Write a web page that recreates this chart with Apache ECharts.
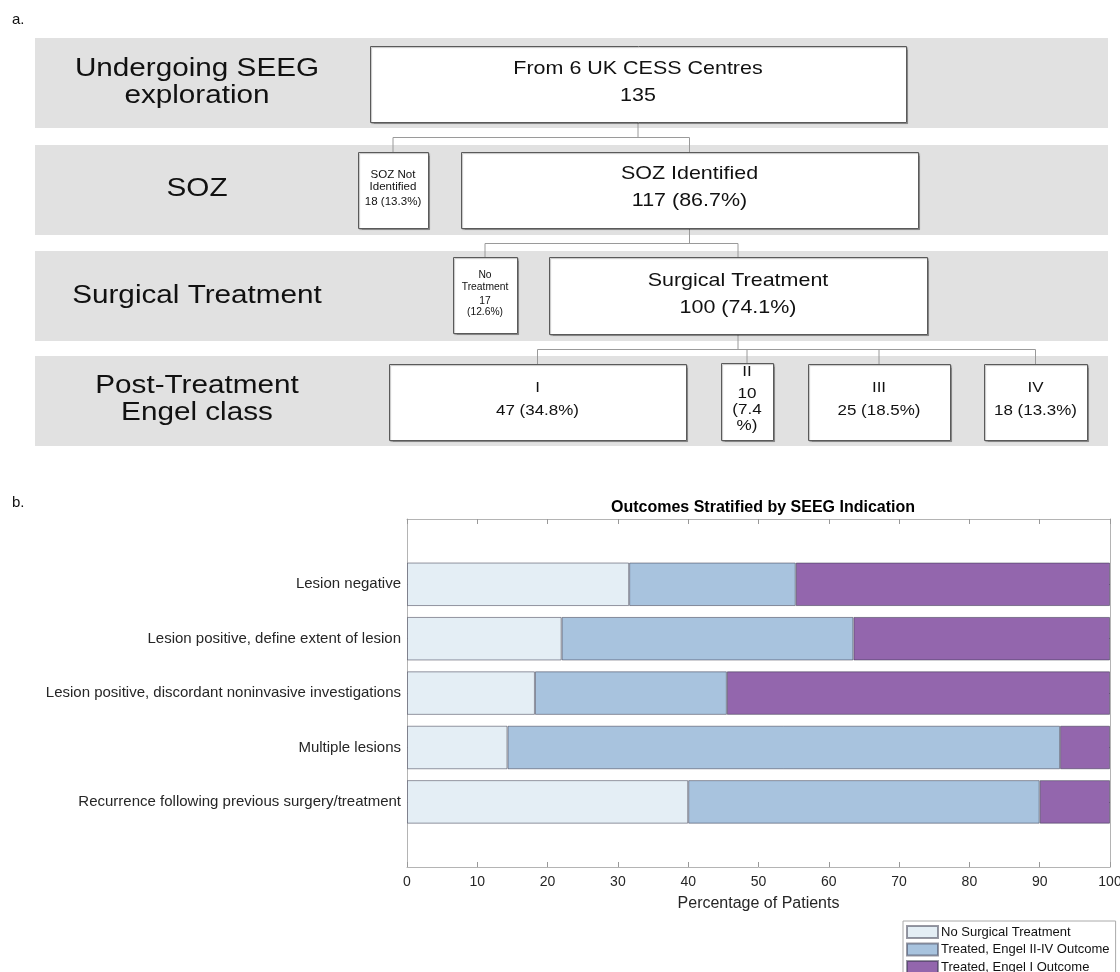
<!DOCTYPE html>
<html>
<head>
<meta charset="utf-8">
<script src="https://cdn.jsdelivr.net/npm/echarts@6/dist/echarts.min.js"></script>
<style>html,body{margin:0;padding:0;background:#fff}#c{width:1120px;height:972px}</style>
</head>
<body>
<div id="c"></div>
<script>
// ================= DATA =================
// Panel a: flow diagram
const stageLabels = ['Undergoing SEEG\nexploration', 'SOZ', 'Surgical Treatment', 'Post-Treatment\nEngel class'];
const nodeTitles = ['From 6 UK CESS Centres', 'SOZ Not\nIdentified', 'SOZ Identified', 'No\nTreatment', 'Surgical Treatment', 'I', 'II', 'III', 'IV'];
const nodeCounts = [135, 18, 117, 17, 100, 47, 10, 25, 18];
const nodePercents = [null, 13.3, 86.7, 12.6, 74.1, 34.8, 7.4, 18.5, 13.3];
const nodeParents = [-1, 0, 0, 2, 2, 4, 4, 4, 4];

// Panel b: stacked bars (percentage of patients)
const categories = [
  'Lesion negative',
  'Lesion positive, define extent of lesion',
  'Lesion positive, discordant noninvasive investigations',
  'Multiple lesions',
  'Recurrence following previous surgery/treatment'
];
const noSurgery = [31.6, 22.0, 18.2, 14.3, 40.0];
const engel2to4 = [23.7, 41.5, 27.3, 78.6, 50.0];
const engel1    = [44.7, 36.5, 54.5, 7.1, 10.0];
const seriesNames = ['No Surgical Treatment', 'Treated, Engel II-IV Outcome', 'Treated, Engel I Outcome'];
const xTickValues = [0, 10, 20, 30, 40, 50, 60, 70, 80, 90, 100];
const chartTitle = 'Outcomes Stratified by SEEG Indication';
const xAxisTitle = 'Percentage of Patients';

// ================= LAYOUT / STYLE =================
const FONT = '"Liberation Sans", Arial, Helvetica, sans-serif';
const bandTops = [38, 145, 251, 356];
const bandH = 90;
const stageLineYs = [[69, 96], [189], [296], [386, 413]];
// box geometry [x, y, w, h]
const boxGeom = [
  [370, 46, 536, 76],
  [358, 152, 70, 76],
  [461, 152, 457, 76],
  [453, 257, 64, 76],
  [549, 257, 378, 77],
  [389, 364, 297, 76],
  [721, 363, 52, 77],
  [808, 364, 142, 76],
  [984, 364, 103, 76]
];
const boxMode = ['countOnly', 'inline', 'inline', 'stacked', 'inline', 'inline', 'split', 'inline', 'inline'];
const boxFont = [19, 10.5, 19, 10, 19, 15, 15.5, 15, 15];
const boxScaleX = [1.13, 1.1, 1.13, 1.03, 1.13, 1.13, 1.1, 1.13, 1.13];
const boxLineYs = [
  [69, 96], [175, 187, 202], [174, 201], [275, 287, 301, 312], [281, 308],
  [388, 411], [372, 394, 410, 426], [388, 411], [388, 411]
];

function nodeLines(i) {
  const t = nodeTitles[i].split('\n');
  const c = nodeCounts[i];
  const p = nodePercents[i] == null ? '' : nodePercents[i].toFixed(1);
  switch (boxMode[i]) {
    case 'countOnly': return t.concat([String(c)]);
    case 'inline': return t.concat([c + ' (' + p + '%)']);
    case 'stacked': return t.concat([String(c), '(' + p + '%)']);
    case 'split': return t.concat([String(c), '(' + p, '%)']);
  }
  return t;
}

const graphics = [];
function txt(str, x, y, size, scaleX, weight) {
  graphics.push({
    type: 'text', x: x, y: y, scaleX: scaleX || 1, silent: true,
    style: { text: str, fontSize: size, fontFamily: FONT, fontWeight: weight || 'normal',
             fill: '#111', align: 'center', verticalAlign: 'middle' }
  });
}
function line(x1, y1, x2, y2) {
  graphics.push({ type: 'line', silent: true,
    shape: { x1: x1, y1: y1, x2: x2, y2: y2 },
    style: { stroke: '#9a9a9a', lineWidth: 1 } });
}

// panel labels
graphics.push({ type: 'text', x: 12, y: 20, silent: true,
  style: { text: 'a.', fontSize: 15, fontFamily: FONT, fill: '#111', align: 'left', verticalAlign: 'middle' } });
graphics.push({ type: 'text', x: 12, y: 503, silent: true,
  style: { text: 'b.', fontSize: 15, fontFamily: FONT, fill: '#111', align: 'left', verticalAlign: 'middle' } });

// bands and stage labels
bandTops.forEach(function (y, k) {
  graphics.push({ type: 'rect', silent: true, shape: { x: 35, y: y, width: 1073, height: bandH },
    style: { fill: '#e1e1e1' } });
  stageLabels[k].split('\n').forEach(function (s, j) {
    txt(s, 197, stageLineYs[k][j], 26.5, 1.12);
  });
});

// connectors
const centerX = boxGeom.map(function (b) { return b[0] + b[2] / 2; });
for (let p = 0; p < nodeTitles.length; p++) {
  const kids = [];
  nodeParents.forEach(function (par, i) { if (par === p) kids.push(i); });
  if (!kids.length) continue;
  const pb = boxGeom[p];
  const bottom = pb[1] + pb[3];
  const childTop = Math.min.apply(null, kids.map(function (i) { return boxGeom[i][1]; }));
  const midY = Math.round((bottom + childTop) / 2) + 0.5;
  line(centerX[p], bottom, centerX[p], midY);
  const xs = kids.map(function (i) { return centerX[i]; });
  line(Math.min.apply(null, xs), midY, Math.max.apply(null, xs), midY);
  kids.forEach(function (i) { line(centerX[i], midY, centerX[i], boxGeom[i][1]); });
}

// boxes
boxGeom.forEach(function (b, i) {
  graphics.push({ type: 'rect', silent: true,
    shape: { x: b[0] + 0.5, y: b[1] + 0.5, width: b[2], height: b[3] },
    style: { fill: '#fff', stroke: '#5a5a5a', lineWidth: 1,
             shadowColor: 'rgba(0,0,0,0.25)', shadowOffsetX: 1, shadowOffsetY: 1, shadowBlur: 1 } });
});
boxGeom.forEach(function (b, i) {
  nodeLines(i).forEach(function (s, j) {
    txt(s, centerX[i], boxLineYs[i][j], boxFont[i], boxScaleX[i]);
  });
});

// ================= CHART =================
const chart = echarts.init(document.getElementById('c'), null, { renderer: 'canvas' });
const axisGrey = '#b4b4b4';
const txtCol = '#262626';
const barColors = ['#e4eef5', '#a8c3de', '#9366ad'];
const seriesData = [noSurgery, engel2to4, engel1];

chart.setOption({
  animation: false,
  backgroundColor: '#fff',
  textStyle: { fontFamily: FONT },
  title: {
    text: chartTitle, left: 758, top: 495, textAlign: 'center',
    textStyle: { fontSize: 16, fontWeight: 'bold', color: '#000', fontFamily: FONT }
  },
  legend: {
    data: seriesNames, orient: 'vertical', left: 903, top: 921, height: 70,
    itemWidth: 31, itemHeight: 12, itemGap: 3.5, icon: 'rect',
    padding: [4, 6, 4, 3], borderColor: '#aaa', borderWidth: 1, backgroundColor: '#fff',
    textStyle: { fontSize: 13, color: '#111', fontFamily: FONT, padding: [0, 0, 0, -2] },
    selectedMode: false
  },
  grid: [
    { left: 407, width: 703, top: 519, height: 348, outerBoundsMode: 'none', containLabel: false },
    { left: 407, width: 703, top: 557.1, height: 272, outerBoundsMode: 'none', containLabel: false }
  ],
  xAxis: [
    { gridIndex: 0, type: 'value', min: 0, max: 100, interval: 10, position: 'bottom',
      axisLine: { show: true, onZero: false, lineStyle: { color: axisGrey } },
      axisTick: { show: true, inside: true, length: 5, lineStyle: { color: '#999' } },
      axisLabel: { color: txtCol, fontSize: 14, margin: 8, hideOverlap: false,
                   formatter: function (v) { return xTickValues.indexOf(v) >= 0 ? String(v) : ''; } },
      splitLine: { show: false },
      name: xAxisTitle, nameLocation: 'middle', nameGap: 29,
      nameTextStyle: { fontSize: 16, color: txtCol, fontFamily: FONT } },
    { gridIndex: 0, type: 'value', min: 0, max: 100, interval: 10, position: 'top',
      axisLine: { show: true, onZero: false, lineStyle: { color: axisGrey } },
      axisTick: { show: true, inside: true, length: 5, lineStyle: { color: '#999' } },
      axisLabel: { show: false }, splitLine: { show: false } },
    { gridIndex: 1, type: 'value', min: 0, max: 100, show: false }
  ],
  yAxis: [
    { gridIndex: 0, type: 'value', min: 0, max: 1, position: 'left',
      axisLine: { show: true, onZero: false, lineStyle: { color: axisGrey } }, axisTick: { show: false },
      axisLabel: { show: false }, splitLine: { show: false } },
    { gridIndex: 0, type: 'value', min: 0, max: 1, position: 'right',
      axisLine: { show: true, onZero: false, lineStyle: { color: axisGrey } }, axisTick: { show: false },
      axisLabel: { show: false }, splitLine: { show: false } },
    { gridIndex: 1, type: 'category', data: categories, inverse: true, position: 'left',
      axisLine: { show: false, onZero: false },
      axisTick: { show: true, inside: true, length: 5, alignWithLabel: true, lineStyle: { color: '#999' } },
      axisLabel: { color: txtCol, fontSize: 15, margin: 6 }, splitLine: { show: false } },
    { gridIndex: 1, type: 'category', data: categories, inverse: true, position: 'right',
      axisLine: { show: false, onZero: false },
      axisTick: { show: true, inside: true, length: 5, alignWithLabel: true, lineStyle: { color: '#999' } },
      axisLabel: { show: false }, splitLine: { show: false } }
  ],
  series: seriesNames.map(function (name, k) {
    return {
      name: name, type: 'bar', stack: 'total', xAxisIndex: 2, yAxisIndex: 2,
      barCategoryGap: '20%', data: seriesData[k],
      itemStyle: { color: barColors[k], borderColor: 'rgba(50,50,70,0.5)', borderWidth: 1 },
      emphasis: { disabled: true }
    };
  }),
  graphic: graphics
});
</script>
</body>
</html>
